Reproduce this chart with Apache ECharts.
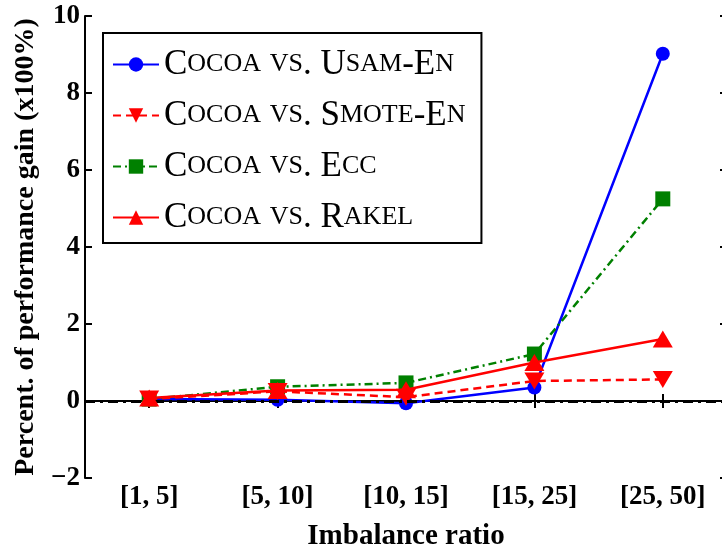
<!DOCTYPE html>
<html>
<head>
<meta charset="utf-8">
<script src="https://cdn.jsdelivr.net/npm/echarts@6/dist/echarts.min.js"></script>
<style>html,body{margin:0;padding:0;background:#fff}#c{width:722px;height:549px}</style>
</head>
<body>
<div id="c"></div>
<script>
const categories = ['[1, 5]', '[5, 10]', '[10, 15]', '[15, 25]', '[25, 50]'];
const usamEn = [0.05, 0.03, -0.06, 0.35, 9.02];
const smoteEn = [0.05, 0.25, 0.10, 0.52, 0.56];
const ecc = [0.05, 0.37, 0.47, 1.22, 5.25];
const rakel = [0.08, 0.27, 0.29, 1.00, 1.61];
const seriesNames = ['Cocoa vs. Usam-En', 'Cocoa vs. Smote-En', 'Cocoa vs. Ecc', 'Cocoa vs. Rakel'];
const yTicks = {min: -2, max: 10, interval: 2};

function smallCaps(name) {
  let out = '', cur = null, buf = '';
  for (const ch of name) {
    const t = (ch >= 'a' && ch <= 'z') ? 's' : 'b';
    const c = t === 's' ? ch.toUpperCase() : ch;
    if (t !== cur) { if (buf) out += '{' + cur + '|' + buf + '}'; buf = ''; cur = t; }
    buf += c;
  }
  if (buf) out += '{' + cur + '|' + buf + '}';
  return out;
}

const boldFont = {fontFamily: 'Liberation Serif', fontWeight: 'bold', color: '#000'};
const axisLine = {show: true, lineStyle: {color: '#000', width: 2}};

const chart = echarts.init(document.getElementById('c'), null, {renderer: 'canvas'});
chart.setOption({
  animation: false,
  backgroundColor: '#fff',
  grid: {left: 85, top: 16, right: -5, bottom: 71, containLabel: false, outerBoundsMode: 'none'},
  legend: {
    data: seriesNames,
    orient: 'vertical',
    left: 103, top: 33,
    padding: [14, 16, 8, 9],
    itemGap: 16,
    itemWidth: 46, itemHeight: 18,
    borderColor: '#000', borderWidth: 2,
    backgroundColor: '#fff',
    formatter: n => smallCaps(n),
    textStyle: {
      fontFamily: 'Liberation Serif', color: '#000',
      rich: {
        b: {fontFamily: 'Liberation Serif', fontSize: 35, lineHeight: 36, color: '#000'},
        s: {fontFamily: 'Liberation Serif', fontSize: 26, lineHeight: 36, color: '#000'}
      }
    }
  },
  xAxis: [{
    type: 'category', data: categories, boundaryGap: true, position: 'bottom',
    axisLine: axisLine,
    axisTick: {show: true, inside: true, alignWithLabel: true, length: 7, lineStyle: {color: '#000', width: 2}},
    axisLabel: Object.assign({fontSize: 27, margin: 6}, boldFont),
    name: 'Imbalance ratio', nameLocation: 'middle', nameGap: 44,
    nameTextStyle: Object.assign({fontSize: 29}, boldFont),
    splitLine: {show: false}
  }, {
    type: 'category', data: categories, boundaryGap: true, position: 'top',
    axisLine: axisLine,
    axisTick: {show: true, inside: true, alignWithLabel: true, length: 7, lineStyle: {color: '#000', width: 2}},
    axisLabel: {show: false}, splitLine: {show: false}
  }],
  yAxis: [{
    type: 'value', min: yTicks.min, max: yTicks.max, interval: yTicks.interval, position: 'left',
    axisLine: axisLine,
    axisTick: {show: true, inside: true, length: 7, lineStyle: {color: '#000', width: 2}},
    axisLabel: Object.assign({fontSize: 27, margin: 5, formatter: v => v < 0 ? '\u2212' + Math.abs(v) : String(v)}, boldFont),
    splitLine: {show: false},
    name: 'Percent. of performance gain (x100%)', nameLocation: 'middle', nameGap: 45, nameRotate: 90,
    nameTextStyle: Object.assign({fontSize: 28}, boldFont)
  }, {
    type: 'value', min: yTicks.min, max: yTicks.max, interval: yTicks.interval, position: 'right',
    axisLine: axisLine,
    axisTick: {show: true, inside: true, length: 7, lineStyle: {color: '#000', width: 2}},
    axisLabel: {show: false}, splitLine: {show: false}
  }],
  series: [
    {
      name: 'zero', type: 'line', data: [], z: 1, silent: true,
      markLine: {silent: true, symbol: 'none', label: {show: false},
        lineStyle: {color: '#000', width: 3, type: [10, 5, 3, 5]},
        data: [{yAxis: 0}]}
    },
    {
      name: seriesNames[0], type: 'line', data: usamEn, z: 3,
      symbol: 'circle', symbolSize: 14,
      lineStyle: {color: '#0000ff', width: 2.5, type: 'solid'},
      itemStyle: {color: '#0000ff'}
    },
    {
      name: seriesNames[1], type: 'line', data: smoteEn, z: 4,
      symbol: 'triangle', symbolSize: [20, 17], symbolRotate: 180,
      lineStyle: {color: '#ff0000', width: 2.5, type: [8, 5]},
      itemStyle: {color: '#ff0000'}
    },
    {
      name: seriesNames[2], type: 'line', data: ecc, z: 3,
      symbol: 'rect', symbolSize: 15,
      lineStyle: {color: '#008000', width: 2.5, type: [8, 4, 2, 4]},
      itemStyle: {color: '#008000'}
    },
    {
      name: seriesNames[3], type: 'line', data: rakel, z: 5,
      symbol: 'triangle', symbolSize: [20, 17],
      lineStyle: {color: '#ff0000', width: 2.5, type: 'solid'},
      itemStyle: {color: '#ff0000'}
    }
  ]
});
</script>
</body>
</html>
